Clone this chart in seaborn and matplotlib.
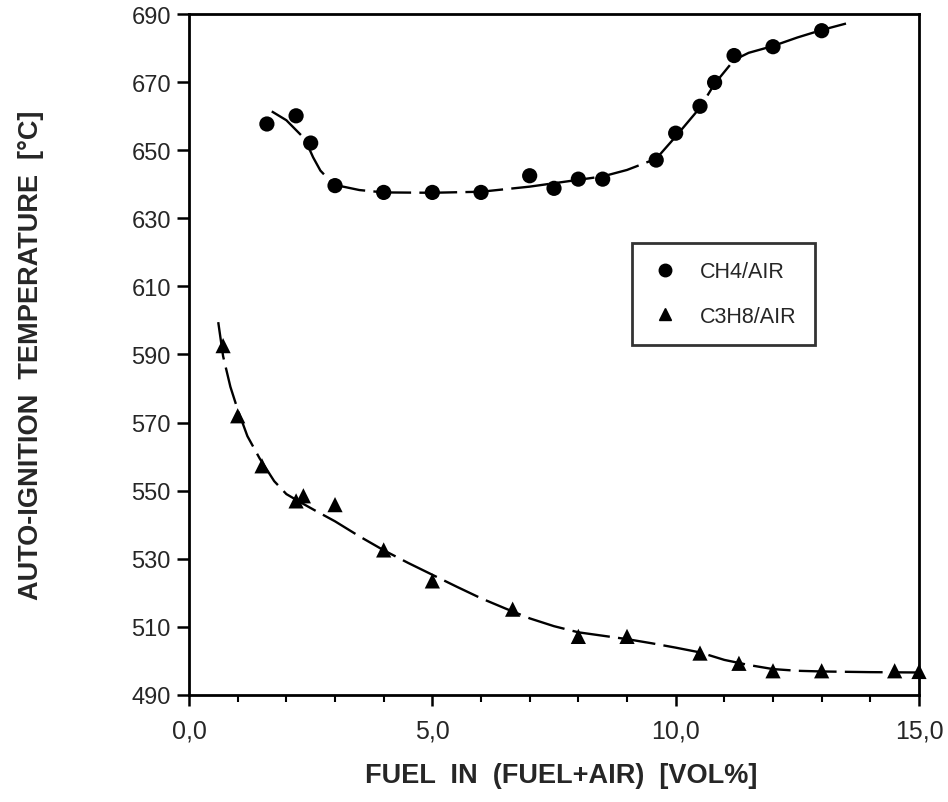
import numpy as np
import pandas as pd
import seaborn as sns
import matplotlib
matplotlib.use("Agg")
import matplotlib.pyplot as plt
from matplotlib.ticker import MultipleLocator, FixedLocator
from matplotlib.lines import Line2D

# --- data ---
ch4_x = [1.6, 2.2, 2.5, 3.0, 4.0, 5.0, 6.0, 7.0, 7.5, 8.0, 8.5, 9.6, 10.0, 10.5, 10.8, 11.2, 12.0, 13.0]
ch4_t = [657.7, 660.1, 652.1, 639.6, 637.6, 637.6, 637.6, 642.5, 638.8, 641.5, 641.5, 647.1, 655.0, 662.9, 669.9, 677.8, 680.4, 685.1]

c3h8_x = [0.7, 1.0, 1.5, 2.2, 2.35, 3.0, 4.0, 5.0, 6.65, 8.0, 9.0, 10.5, 11.3, 12.0, 13.0, 14.5, 15.0]
c3h8_t = [592.6, 572.0, 557.3, 547.0, 548.5, 545.9, 532.6, 523.5, 515.2, 507.2, 507.2, 502.3, 499.3, 497.1, 497.1, 497.1, 496.9]

# fitted (dashed) curves as drawn in the reference
ch4_fit_x = [1.7, 2.0, 2.38, 2.55, 2.7, 2.9, 3.0, 3.5, 4.0, 5.0, 6.0, 7.0, 7.5, 8.0, 8.5, 9.0, 9.6,
             10.0, 10.5, 10.8, 11.2, 11.5, 12.0, 12.5, 13.0, 13.5]
ch4_fit_t = [661.4, 658.8, 653.3, 647.9, 644.0, 641.0, 639.8, 638.3, 637.6, 637.5, 637.8, 639.3, 640.3,
             641.3, 642.3, 644.2, 647.5, 654.0, 662.5, 669.5, 676.5, 678.6, 680.6, 683.1, 685.3, 687.2]

c3h8_fit_x = [0.6, 0.7, 0.85, 1.0, 1.2, 1.45, 1.75, 2.0, 2.3, 2.6, 3.0, 3.5, 4.0, 4.5, 5.0, 5.5, 6.0,
              6.5, 7.0, 7.5, 8.0, 8.5, 9.0, 9.5, 10.0, 10.5, 11.0, 11.5, 12.0, 12.5, 13.0, 14.0, 15.0]
c3h8_fit_t = [599.5, 589.5, 580.5, 573.8, 566.0, 559.5, 552.8, 549.0, 546.5, 544.1, 541.0, 536.6, 532.5,
              528.8, 525.3, 521.8, 518.4, 515.4, 512.5, 510.2, 508.4, 507.4, 506.4, 505.2, 503.9, 502.5,
              500.3, 498.8, 497.6, 497.1, 496.9, 496.7, 496.6]

series_names = ["CH4/AIR", "C3H8/AIR"]
x_label = "FUEL  IN  (FUEL+AIR)  [VOL%]"
y_label = "AUTO-IGNITION  TEMPERATURE  [°C]"
x_ticks = [0, 5, 10, 15]
x_ticklabels = ["0,0", "5,0", "10,0", "15,0"]
y_ticks = [490, 510, 530, 550, 570, 590, 610, 630, 650, 670, 690]

pts = pd.concat([
    pd.DataFrame({"x": ch4_x, "t": ch4_t, "series": series_names[0]}),
    pd.DataFrame({"x": c3h8_x, "t": c3h8_t, "series": series_names[1]}),
])
fits = pd.concat([
    pd.DataFrame({"x": ch4_fit_x, "t": ch4_fit_t, "series": series_names[0]}),
    pd.DataFrame({"x": c3h8_fit_x, "t": c3h8_fit_t, "series": series_names[1]}),
])

sns.set_style("ticks")
plt.rcParams["font.family"] = ["Liberation Sans", "DejaVu Sans"]

fig = plt.figure(figsize=(9.48, 8.03), dpi=100)
ax = fig.add_axes([0.1994, 0.1333, 0.7700, 0.8480])

for name in series_names:
    sub = fits[fits["series"] == name]
    sns.lineplot(data=sub, x="x", y="t", ax=ax, color="black", linewidth=1.7,
                 sort=False, estimator=None, legend=False)
for ln in ax.get_lines():
    ln.set_dashes([16, 3.5])
    ln.set_clip_on(False)

sns.scatterplot(data=pts, x="x", y="t", style="series", markers={series_names[0]: "o", series_names[1]: "^"},
                color="black", s=120, edgecolor="black", linewidth=0, ax=ax, legend=False, zorder=5,
                clip_on=False)

ax.set_xlim(0, 15)
ax.set_ylim(490, 690)
ax.xaxis.set_major_locator(FixedLocator(x_ticks))
ax.set_xticklabels(x_ticklabels)
ax.xaxis.set_minor_locator(MultipleLocator(1))
ax.yaxis.set_major_locator(FixedLocator(y_ticks))

for sp in ax.spines.values():
    sp.set_visible(True)
    sp.set_linewidth(2.0)
    sp.set_color("black")

ax.tick_params(axis="y", which="major", direction="out", length=9, width=1.8, labelsize=17, pad=4, color="black")
ax.tick_params(axis="x", which="major", direction="out", length=8, width=1.8, labelsize=18, pad=9, color="black")
ax.tick_params(axis="x", which="minor", direction="out", length=5, width=1.5, color="black")

ax.set_xlabel(x_label, fontsize=19.5, fontweight="bold")
ax.set_ylabel(y_label, fontsize=19.5, fontweight="bold")
ax.xaxis.set_label_coords(0.51, -0.099)
ax.yaxis.set_label_coords(-0.198, 0.5)

handles = [
    Line2D([], [], linestyle="none", marker="o", color="black", markersize=9),
    Line2D([], [], linestyle="none", marker="^", color="black", markersize=9),
]
leg = ax.legend(handles, series_names, loc="upper left", bbox_to_anchor=(0.607, 0.664),
                frameon=True, fancybox=False, fontsize=15.5, handletextpad=0.9,
                labelspacing=1.1, borderpad=0.85, handlelength=1.4, borderaxespad=0)
leg.get_frame().set_edgecolor("black")
leg.get_frame().set_linewidth(2.0)

fig.savefig("out.png", dpi=100)
